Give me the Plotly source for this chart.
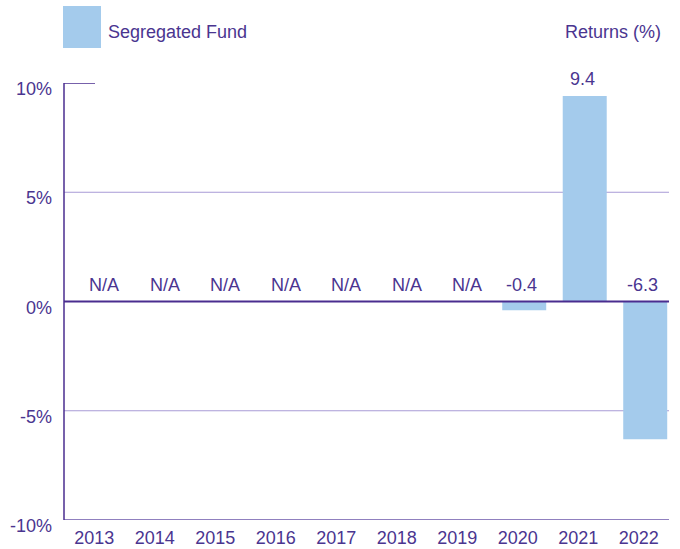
import plotly.graph_objects as go

years = ["2013", "2014", "2015", "2016", "2017", "2018", "2019", "2020", "2021", "2022"]
returns = [None, None, None, None, None, None, None, -0.4, 9.4, -6.3]
value_labels = ["N/A", "N/A", "N/A", "N/A", "N/A", "N/A", "N/A", "-0.4", "9.4", "-6.3"]
y_ticks = [10, 5, 0, -5, -10]
y_tick_labels = ["10%", "5%", "0%", "-5%", "-10%"]
series_name = "Segregated Fund"
axis_title = "Returns (%)"

TEXT = "#4A3590"
AXIS = "#4A2D8F"
GRID = "#A89BD6"
BAR = "#A4CBEC"
FONT = "Liberation Sans, Arial, sans-serif"

BAR_W = 0.727
BAR_SHIFT = 0.107

fig = go.Figure()
fig.add_trace(go.Bar(
    x=years, y=returns, marker=dict(color=BAR, line=dict(width=0)),
    width=BAR_W, offset=-BAR_W / 2 + BAR_SHIFT,
    name=series_name, showlegend=False, hoverinfo="skip",
))

shapes = []
for v in [5, -5]:
    shapes.append(dict(type="line", xref="paper", yref="y", x0=0, x1=1, y0=v, y1=v,
                       line=dict(color=GRID, width=1), layer="below"))
shapes.append(dict(type="line", xref="paper", yref="y", x0=0, x1=1, y0=-10, y1=-10,
                   line=dict(color="#6B56AA", width=1.5)))
shapes.append(dict(type="line", xref="paper", yref="y", x0=0, x1=1, y0=0, y1=0,
                   line=dict(color=AXIS, width=2.2)))
shapes.append(dict(type="line", xref="paper", yref="y", x0=0, x1=31 / 605, y0=10, y1=10,
                   line=dict(color=AXIS, width=1.5)))
shapes.append(dict(type="line", xref="paper", yref="y", x0=0, x1=0, y0=-10, y1=10,
                   line=dict(color=AXIS, width=1.5)))
shapes.append(dict(type="rect", xref="paper", yref="paper",
                   x0=-1 / 605, x1=37 / 605, y0=(520 - 48) / 437, y1=(520 - 6) / 437,
                   fillcolor=BAR, line=dict(width=0)))

annotations = []
for i, (v, lab) in enumerate(zip(returns, value_labels)):
    base = v if (v is not None and v > 0) else 0
    annotations.append(dict(x=i, y=base, xref="x", yref="y", text=lab, showarrow=False,
                            yanchor="middle", yshift=17, xshift=10 if v is None else 4,
                            font=dict(size=18, color=TEXT, family=FONT)))
for v, lab in zip(y_ticks, y_tick_labels):
    annotations.append(dict(x=0, y=v, xref="paper", yref="y", text=lab, showarrow=False,
                            xanchor="right", yanchor="middle", xshift=-10, yshift=-6,
                            font=dict(size=18, color=TEXT, family=FONT)))
annotations.append(dict(x=42 / 605, y=(520 - 32) / 437, xref="paper", yref="paper", text=series_name,
                        showarrow=False, xanchor="left", yanchor="middle",
                        font=dict(size=18, color=TEXT, family=FONT)))
annotations.append(dict(x=599 / 605, y=(520 - 32) / 437, xref="paper", yref="paper", text=axis_title,
                        showarrow=False, xanchor="right", yanchor="middle",
                        font=dict(size=18, color=TEXT, family=FONT)))

fig.update_layout(
    width=680, height=549, autosize=False,
    margin=dict(l=64, r=11, t=83, b=29, pad=0),
    plot_bgcolor="white", paper_bgcolor="white",
    font=dict(family=FONT, size=18, color=TEXT),
    shapes=shapes, annotations=annotations,
    xaxis=dict(type="category", range=[-0.5, 9.5], showgrid=False, zeroline=False,
               showline=False, ticks="", tickfont=dict(size=18, color=TEXT, family=FONT),
               ticklabelstandoff=5, automargin=False),
    yaxis=dict(range=[-10, 10], showgrid=False, zeroline=False, showline=False,
               showticklabels=False, ticks="", automargin=False),
    bargap=0.27,
)

fig.write_html("out.html", config={"displayModeBar": False, "responsive": False},
               post_script="document.body.style.margin='0';document.body.style.overflow='hidden';")
